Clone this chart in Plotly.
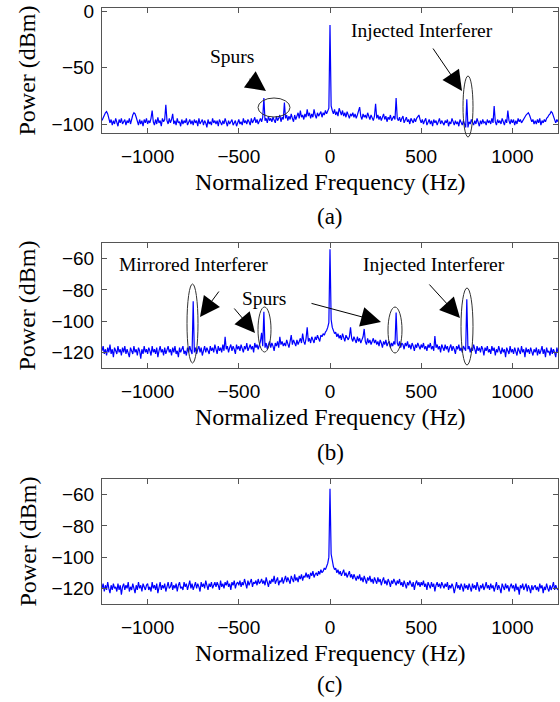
import numpy as np
import plotly.graph_objects as go

# Frequency grid (Hz): 6.25 Hz bins from -1250 to 1250 (401 bins)
freq = np.arange(-1250.0, 1250.0 + 1e-9, 6.25)

# Panel (a): power (dBm), 20 bins per row, 125 Hz per row
power_a = [
    -97, -94, -92, -90, -89, -91, -95, -99, -96, -101, -97, -100, -95, -99, -102, -96, -99, -95, -100, -98,
    -96, -101, -97, -99, -95, -100, -94, -92, -90, -91, -94, -98, -101, -96, -100, -97, -102, -96, -99, -95,
    -100, -97, -99, -95, -88, -98, -101, -96, -100, -94, -99, -97, -102, -95, -98, -96, -83, -97, -100, -95,
    -99, -96, -91, -100, -97, -101, -95, -99, -98, -102, -96, -100, -97, -99, -95, -101, -98, -96, -100, -97,
    -101, -96, -99, -97, -102, -95, -100, -98, -96, -101, -97, -99, -103, -96, -100, -98, -101, -95, -99, -97,
    -100, -97, -102, -96, -99, -101, -97, -100, -95, -99, -102, -97, -100, -98, -96, -101, -99, -97, -102, -98,
    -96, -100, -98, -101, -95, -99, -97, -100, -96, -98, -101, -95, -99, -97, -94, -99, -96, -100, -97, -95,
    -98, -94, -77, -97, -95, -99, -93, -97, -95, -98, -94, -96, -99, -93, -97, -95, -92, -98, -94, -96,
    -81, -95, -92, -97, -93, -96, -91, -95, -98, -92, -96, -93, -90, -95, -88, -94, -92, -96, -91, -94,
    -87, -93, -90, -95, -91, -94, -87, -92, -95, -90, -93, -91, -89, -94, -90, -92, -88, -91, -89, -86,
    -12, -84, -88, -91, -87, -92, -89, -93, -86, -90, -92, -88, -93, -90, -94, -89, -92, -95, -91, -93,
    -90, -94, -91, -95, -92, -89, -85, -93, -96, -91, -94, -92, -95, -90, -93, -96, -92, -94, -97, -93,
    -82, -95, -92, -96, -93, -97, -94, -91, -96, -93, -98, -94, -96, -92, -97, -95, -93, -96, -77, -95,
    -97, -94, -98, -95, -93, -99, -96, -94, -98, -96, -100, -95, -97, -99, -95, -98, -95, -93, -92, -96,
    -99, -96, -100, -97, -95, -101, -98, -96, -100, -97, -102, -96, -99, -97, -101, -98, -95, -100, -97, -99,
    -101, -97, -99, -96, -102, -98, -100, -95, -99, -101, -97, -100, -98, -102, -96, -99, -101, -97, -100, -103,
    -78, -103, -98, -100, -96, -99, -101, -97, -100, -95, -99, -102, -97, -100, -96, -99, -98, -101, -96, -99,
    -97, -100, -95, -99, -84, -98, -101, -96, -99, -97, -100, -95, -98, -101, -96, -99, -88, -97, -100, -96,
    -99, -96, -101, -97, -100, -95, -98, -96, -99, -97, -95, -93, -92, -91, -90, -92, -95, -98, -96, -100,
    -97, -100, -96, -99, -95, -101, -97, -99, -96, -98, -95, -94, -92, -91, -89, -90, -93, -97, -99, -96,
    -98,
]

# Panel (b): power (dBm)
power_b = [
    -119, -116, -121, -118, -122, -117, -120, -115, -121, -118, -123, -117, -119, -121, -116, -120, -118, -122, -117, -120,
    -116, -121, -118, -120, -123, -117, -119, -121, -116, -120, -118, -122, -117, -119, -124, -118, -121, -116, -120, -118,
    -121, -117, -119, -122, -116, -120, -118, -121, -117, -123, -119, -116, -120, -118, -122, -117, -121, -119, -116, -120,
    -118, -122, -117, -120, -116, -121, -119, -123, -117, -120, -118, -116, -121, -119, -122, -117, -120, -116, -119, -121,
    -87.3, -120, -117, -121, -118, -116, -120, -117, -122, -118, -116, -120, -117, -119, -121, -116, -119, -117, -120, -115,
    -118, -121, -116, -119, -117, -120, -115, -119, -110, -118, -116, -120, -117, -115, -119, -116, -118, -121, -115, -118,
    -116, -119, -115, -118, -120, -116, -118, -114, -119, -117, -115, -118, -116, -120, -114, -117, -115, -118, -116, -113,
    -107.5, -116, -94, -117, -114, -118, -115, -113, -117, -114, -116, -119, -114, -116, -113, -117, -110, -115, -113, -116,
    -114, -116, -112, -115, -117, -113, -109, -115, -112, -114, -116, -112, -115, -113, -111, -114, -108, -113, -115, -111,
    -104, -113, -111, -114, -110, -112, -114, -110, -112, -109, -111, -113, -109, -110, -108, -109, -107, -106, -104, -101,
    -54, -99, -104, -106, -108, -107, -110, -108, -111, -109, -112, -108, -110, -113, -109, -111, -112, -110, -104, -111,
    -113, -110, -112, -114, -110, -113, -111, -114, -112, -110, -105, -113, -115, -111, -114, -112, -115, -113, -111, -114,
    -112, -115, -113, -116, -112, -114, -117, -113, -115, -112, -116, -114, -113, -117, -114, -116, -113, -115, -94.5, -114,
    -116, -113, -117, -114, -115, -118, -114, -116, -113, -117, -115, -118, -114, -116, -119, -115, -117, -114, -116, -118,
    -115, -117, -114, -118, -116, -119, -115, -117, -114, -118, -116, -119, -109.6, -117, -115, -118, -116, -120, -115, -117,
    -119, -115, -118, -116, -120, -117, -115, -119, -116, -118, -121, -116, -118, -115, -119, -117, -120, -116, -118, -119,
    -86, -118, -116, -120, -117, -119, -115, -118, -121, -116, -119, -117, -120, -116, -118, -122, -117, -119, -116, -120,
    -118, -121, -116, -119, -117, -122, -118, -120, -116, -119, -121, -117, -120, -118, -123, -117, -119, -121, -116, -120,
    -118, -121, -117, -120, -122, -117, -119, -121, -116, -120, -118, -123, -117, -120, -118, -121, -117, -119, -122, -118,
    -120, -117, -122, -118, -121, -119, -116, -121, -118, -123, -117, -120, -119, -122, -117, -121, -118, -120, -123, -117,
    -120,
]

# Panel (c): power (dBm)
power_c = [
    -120, -117, -122, -118, -121, -116, -120, -123, -118, -121, -117, -120, -119, -122, -117, -121, -118, -124, -119, -117,
    -121, -118, -120, -116, -122, -119, -121, -117, -120, -123, -118, -121, -116, -120, -118, -122, -117, -119, -121, -118,
    -117, -121, -119, -122, -116, -120, -118, -121, -117, -123, -119, -116, -121, -118, -120, -117, -122, -119, -116, -120,
    -119, -116, -121, -118, -120, -117, -122, -118, -116, -120, -119, -121, -116, -119, -117, -121, -118, -115, -120, -117,
    -121, -118, -116, -120, -117, -119, -122, -116, -119, -117, -120, -115, -118, -121, -117, -119, -116, -120, -118, -116,
    -119, -116, -118, -121, -115, -119, -117, -120, -116, -118, -115, -119, -117, -121, -116, -118, -115, -120, -117, -116,
    -118, -115, -119, -116, -118, -114, -117, -120, -115, -118, -116, -114, -119, -116, -117, -115, -118, -114, -117, -116,
    -114, -117, -115, -118, -113, -116, -119, -115, -117, -114, -116, -112, -117, -115, -113, -118, -115, -116, -113, -117,
    -115, -112, -116, -113, -115, -117, -112, -114, -116, -111, -115, -113, -116, -112, -114, -111, -115, -112, -113, -110,
    -113, -111, -114, -110, -112, -109, -113, -111, -110, -112, -109, -111, -108, -110, -109, -107, -108, -106, -104, -100,
    -56.3, -98, -103, -106, -108, -107, -110, -108, -111, -109, -112, -110, -108, -112, -110, -113, -111, -109, -113, -111,
    -114, -111, -113, -115, -112, -114, -111, -115, -113, -116, -112, -114, -117, -113, -115, -112, -116, -114, -117, -113,
    -115, -117, -113, -116, -114, -118, -115, -113, -117, -115, -118, -114, -116, -119, -115, -117, -114, -116, -118, -115,
    -117, -114, -118, -116, -119, -115, -117, -120, -116, -118, -115, -117, -119, -116, -121, -117, -115, -118, -116, -119,
    -116, -118, -115, -119, -117, -121, -116, -118, -120, -116, -119, -117, -122, -118, -116, -119, -117, -120, -116, -118,
    -120, -117, -119, -116, -121, -118, -120, -117, -119, -123, -118, -116, -120, -118, -121, -117, -119, -122, -117, -120,
    -118, -121, -117, -119, -122, -117, -120, -118, -121, -116, -119, -122, -118, -120, -117, -121, -119, -116, -120, -118,
    -121, -117, -120, -118, -122, -119, -116, -121, -118, -120, -123, -117, -119, -121, -117, -120, -118, -122, -119, -117,
    -120, -118, -122, -117, -121, -119, -124, -118, -120, -117, -121, -119, -117, -122, -118, -120, -123, -118, -121, -119,
    -118, -121, -119, -122, -117, -120, -118, -123, -119, -121, -117, -120, -122, -118, -121, -119, -116, -121, -118, -120,
    -121,
]

x_ticks = [-1000, -500, 0, 500, 1000]
y_ticks_a = [-100, -50, 0]
y_ticks_bc = [-120, -100, -80, -60]
captions = ["(a)", "(b)", "(c)"]
x_title = "Normalized Frequency (Hz)"
y_title = "Power (dBm)"

W, H = 560, 702
def px(x):
    return x / W
def py(y):
    return 1 - y / H

SERIF = "Liberation Serif, Times New Roman, serif"
SANS = "Liberation Sans, Arial, Helvetica, sans-serif"
LINE = "#555555"

fig = go.Figure()
series = [power_a, power_b, power_c]
for k, p in enumerate(series):
    sfx = "" if k == 0 else str(k + 1)
    fig.add_trace(go.Scatter(x=freq, y=p, mode="lines",
                             line=dict(color="#0000ff", width=1.2),
                             xaxis="x" + sfx, yaxis="y" + sfx,
                             showlegend=False, hoverinfo="skip"))

panels = [(8, 133), (243, 368), (479, 604)]
yranges = [[-108, 3.1], [-130, -50], [-130, -50]]
yticks = [y_ticks_a, y_ticks_bc, y_ticks_bc]

layout = dict(width=W, height=H,
              margin=dict(l=0, r=0, t=0, b=0, autoexpand=False),
              plot_bgcolor="white", paper_bgcolor="white", showlegend=False)
axis_common = dict(showline=True, linecolor=LINE, linewidth=1, mirror="allticks",
                   ticks="inside", ticklen=5, tickcolor=LINE, tickwidth=1,
                   showgrid=False, zeroline=False, automargin=False,
                   tickfont=dict(family=SANS, size=19, color="black"))
for k, (top, bot) in enumerate(panels):
    sfx = "" if k == 0 else str(k + 1)
    layout["xaxis" + sfx] = dict(axis_common, domain=[px(102), px(558)],
                                 range=[-1250, 1250], tickvals=x_ticks,
                                 anchor="y" + sfx, ticklabelstandoff=6)
    layout["yaxis" + sfx] = dict(axis_common, domain=[py(bot), py(top)],
                                 range=yranges[k], tickvals=yticks[k],
                                 anchor="x" + sfx, ticklabelstandoff=3,
                                 ticklabeloverflow="allow")
fig.update_layout(**layout)

ann = []
for k, (top, bot) in enumerate(panels):
    ann.append(dict(x=px(330), y=py(bot + 49), xref="paper", yref="paper",
                    text=x_title, showarrow=False, xanchor="center", yanchor="middle",
                    font=dict(family=SERIF, size=24, color="black")))
    ann.append(dict(x=px(27), y=py((top + bot) / 2), xref="paper", yref="paper",
                    text=y_title, showarrow=False, textangle=-90,
                    xanchor="center", yanchor="middle",
                    font=dict(family=SERIF, size=24, color="black")))
cap_y = [217, 452, 684]
for c, yy in zip(captions, cap_y):
    ann.append(dict(x=px(330), y=py(yy), xref="paper", yref="paper", text=c,
                    showarrow=False, xanchor="center", yanchor="middle",
                    font=dict(family=SERIF, size=23, color="black")))

labels = [("Spurs", 232, 56), ("Injected Interferer", 421.5, 31),
          ("Mirrored Interferer", 193, 265), ("Spurs", 264, 298),
          ("Injected Interferer", 433.5, 265)]
for t, x, y in labels:
    ann.append(dict(x=px(x), y=py(y), xref="paper", yref="paper", text=t,
                    showarrow=False, xanchor="center", yanchor="middle",
                    font=dict(family=SERIF, size=19.5, color="black")))

# arrows: (tail_x, tail_y, head_x, head_y) in pixels
arrows = [(248, 78, 266, 91), (432, 47, 462, 91),
          (220, 290, 200, 317), (233, 307, 255, 333),
          (310, 303, 381, 322), (428, 283, 460, 318)]
for tx, ty, hx, hy in arrows:
    ann.append(dict(x=px(hx), y=py(hy), xref="paper", yref="paper", text="",
                    showarrow=True, arrowhead=2, arrowsize=4, arrowwidth=1,
                    arrowcolor="black", ax=tx - hx, ay=ty - hy, standoff=0))
fig.update_layout(annotations=ann)

ellipses = [(258, 98, 290, 117), (463, 76, 473, 137),
            (187, 284, 198, 363), (258, 307, 271, 352),
            (388, 307, 402, 353), (461, 288, 473, 365)]
for x0, y0, x1, y1 in ellipses:
    fig.add_shape(type="circle", xref="paper", yref="paper",
                  x0=px(x0), x1=px(x1), y0=py(y1), y1=py(y0),
                  line=dict(color="#333333", width=1))

fig.write_html("out.html")
